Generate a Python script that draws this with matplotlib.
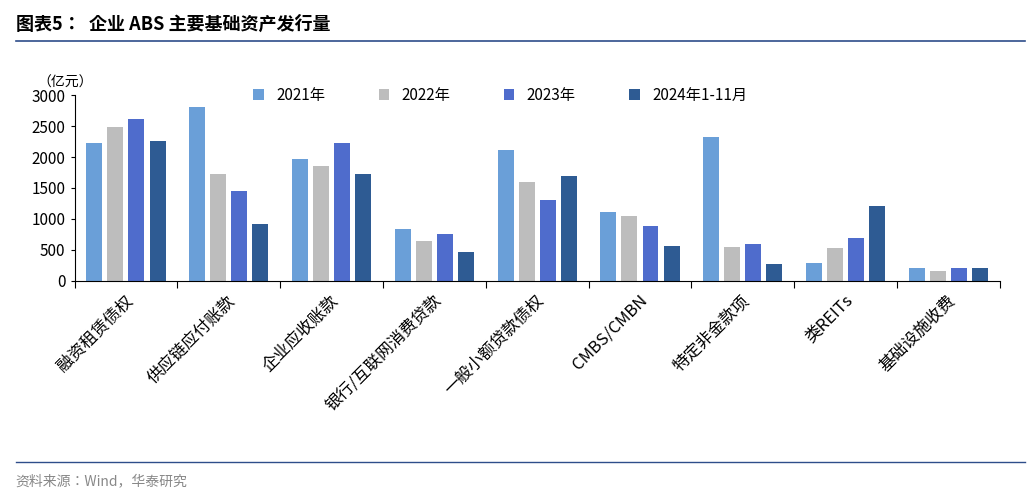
import numpy as np
import matplotlib.pyplot as plt
from matplotlib import font_manager
from matplotlib.lines import Line2D

cjk = [f.name for f in font_manager.fontManager.ttflist if 'CJK' in f.name]
plt.rcParams['font.family'] = 'sans-serif'
plt.rcParams['font.sans-serif'] = ['Noto Sans CJK SC', 'Noto Sans CJK JP'] + cjk + ['DejaVu Sans']

categories = ['融资租赁债权', '供应链应付账款', '企业应收账款', '银行/互联网消费贷款',
              '一般小额贷款债权', 'CMBS/CMBN', '特定非金款项', '类REITs', '基础设施收费']
series_names = ['2021年', '2022年', '2023年', '2024年1-11月']
v2021 = [2230, 2810, 1970, 830, 2120, 1110, 2320, 290, 210]
v2022 = [2490, 1720, 1850, 640, 1590, 1050, 540, 530, 160]
v2023 = [2610, 1450, 2230, 760, 1310, 890, 600, 690, 210]
v2024 = [2260, 920, 1720, 470, 1690, 570, 270, 1210, 200]
colors = ['#6a9fd8', '#bdbdbd', '#4f6ccc', '#2e5b93']

fig = plt.figure(figsize=(10.35, 4.98), dpi=100)
ax = fig.add_axes([0.072, 0.436, 0.894, 0.373])

x = np.arange(len(categories))
w = 0.155
gap = 0.205
for i, (vals, name) in enumerate(zip([v2021, v2022, v2023, v2024], series_names)):
    ax.bar(x + (i - 1.5) * gap, vals, width=w, color=colors[i], label=name)

ax.set_xlim(-0.5, len(categories) - 0.5)
ax.set_ylim(0, 3000)
ax.set_yticks(range(0, 3001, 500))
ax.tick_params(axis='y', labelsize=11, length=3)
ax.set_xticks(np.arange(len(categories) + 1) - 0.5)
ax.set_xticklabels([])
ax.tick_params(axis='x', length=5)
for xi, c in zip(x, categories):
    ax.text(xi + 0.1, -180, c, rotation=45, ha='right', va='top', fontsize=12,
            transform=ax.transData)
for s in ['top', 'right']:
    ax.spines[s].set_visible(False)
ax.text(-0.04, 1.03, '（亿元）', transform=ax.transAxes, fontsize=10, ha='left', va='bottom')
ax.legend(loc='upper center', bbox_to_anchor=(0.46, 1.12), ncol=4, frameon=False,
          fontsize=11, handlelength=0.7, handleheight=0.7, columnspacing=3.5)

fig.text(0.015, 0.94, '图表5：  企业 ABS 主要基础资产发行量', fontsize=13, fontweight='bold')
fig.add_artist(Line2D([0.015, 0.99], [0.918, 0.918], color='#2e4d8a', lw=1.2))
fig.add_artist(Line2D([0.015, 0.99], [0.072, 0.072], color='#2e4d8a', lw=1))
fig.text(0.015, 0.025, '资料来源：Wind，华泰研究', fontsize=10, color='#888888')

fig.savefig('out.png', dpi=100)
